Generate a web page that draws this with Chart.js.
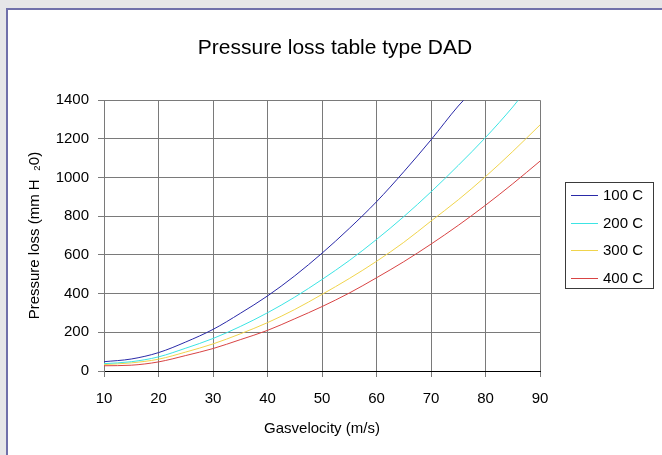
<!DOCTYPE html>
<html>
<head>
<meta charset="utf-8">
<script src="https://cdn.jsdelivr.net/npm/chart.js@4"></script>
<style>
  body { margin: 0; background: #e6e6e8; }
  #panel {
    position: absolute; left: 6px; top: 8px; width: 656px; height: 447px;
    border-left: 2px solid #7070aa; border-top: 2px solid #7070aa;
    background: #fff;
  }
  canvas { display: block; }
</style>
</head>
<body>
<div id="panel"><canvas id="myChart" width="654" height="445"></canvas></div>
<script>
// gas velocity (m/s) where the curves were read
const velocity = [10, 15, 20, 25, 30, 35, 40, 45, 50, 55, 60, 65, 70, 75, 80, 85, 90];

// pressure loss (mm H2O) per temperature, last point where a curve leaves the top
const loss100 = [48, 62, 95, 150, 215, 298, 388, 492, 609, 737, 875, 1030, 1195, 1370];
const end100 = [76, 1400];
const loss200 = [38, 48, 73, 118, 168, 230, 301, 382, 473, 571, 680, 798, 926, 1063, 1207, 1365];
const end200 = [86, 1400];
const loss300 = [33, 42, 61, 98, 140, 192, 250, 318, 396, 478, 567, 665, 775, 885, 1005, 1135, 1272];
const loss400 = [27, 30, 47, 80, 116, 162, 210, 270, 333, 403, 482, 565, 656, 753, 857, 968, 1085];

const seriesNames = ['100 C', '200 C', '300 C', '400 C'];
const seriesColors = ['#2a2aa8', '#3ce4e4', '#f0d44c', '#d84444'];

const xTicks = [10, 20, 30, 40, 50, 60, 70, 80, 90];
const yTicks = [0, 200, 400, 600, 800, 1000, 1200, 1400];

function points(values, end) {
  const pts = values.map((v, i) => ({ x: velocity[i], y: v }));
  if (end) pts.push({ x: end[0], y: end[1] });
  return pts;
}

const allSeries = [points(loss100, end100), points(loss200, end200), points(loss300), points(loss400)];

const FONT = 'Liberation Sans, Arial, sans-serif';

// boxed legend on the right, like the original
const boxLegend = {
  id: 'boxLegend',
  afterLayout(chart) {
    // center the title over the whole panel, not just the plot side
    const t = chart.titleBlock;
    if (t) { t.left = 0; t.right = chart.width; t.width = chart.width; }
  },
  afterDraw(chart) {
    const c = chart.ctx;
    c.save();
    c.strokeStyle = '#3a3a3a';
    c.lineWidth = 1;
    c.strokeRect(557.5, 172.5, 88, 106);
    c.font = '15px ' + FONT;
    c.textBaseline = 'middle';
    c.fillStyle = '#000';
    chart.data.datasets.forEach((ds, i) => {
      const y = Math.round(185 + i * 27.5) + 0.5;
      c.strokeStyle = ds.borderColor;
      c.lineWidth = 1;
      c.beginPath();
      c.moveTo(563, y);
      c.lineTo(590, y);
      c.stroke();
      c.fillText(ds.label, 595, y);
    });
    c.restore();
  }
};

const ctx = document.getElementById('myChart');
const myChart = new Chart(ctx, {
  type: 'line',
  data: {
    datasets: allSeries.map((pts, i) => ({
      label: seriesNames[i],
      data: pts,
      borderColor: seriesColors[i],
      backgroundColor: seriesColors[i],
      borderWidth: 1,
      pointRadius: 0,
      cubicInterpolationMode: 'monotone',
      fill: false
    }))
  },
  options: {
    responsive: false,
    animation: false,
    devicePixelRatio: 1,
    layout: { padding: { left: 0, right: 122, top: 0, bottom: 0 } },
    plugins: {
      legend: { display: false },
      tooltip: { enabled: false },
      title: {
        display: true,
        text: 'Pressure loss table type DAD',
        color: '#000',
        font: { family: FONT, size: 21, weight: 'normal' },
        padding: { top: 26, bottom: 39 }
      }
    },
    scales: {
      x: {
        type: 'linear',
        min: 10,
        max: 90,
        afterBuildTicks: s => { s.ticks = xTicks.map(v => ({ value: v })); },
        afterFit: s => { s.height = 84; },
        ticks: { color: '#000', padding: 13, font: { family: FONT, size: 15 } },
        grid: { color: '#7a7a7a', tickLength: 6, tickColor: '#7a7a7a' },
        border: { color: '#000' },
        title: {
          display: true,
          text: 'Gasvelocity (m/s)',
          color: '#000',
          font: { family: FONT, size: 15 },
          padding: { top: 0, bottom: 17 }
        }
      },
      y: {
        min: 0,
        max: 1400,
        afterBuildTicks: s => { s.ticks = yTicks.map(v => ({ value: v })); },
        afterFit: s => { s.width = 96; },
        ticks: {
          color: '#000',
          padding: 9,
          font: { family: FONT, size: 15 },
          callback: v => String(v)
        },
        grid: { color: '#7a7a7a', tickLength: 6, tickColor: '#7a7a7a' },
        border: { color: '#7a7a7a' },
        title: {
          display: true,
          text: 'Pressure loss (mm H  \u20820)',
          color: '#000',
          font: { family: FONT, size: 15 },
          padding: { top: 18, bottom: 0 }
        }
      }
    }
  },
  plugins: [boxLegend]
});
</script>
</body>
</html>
